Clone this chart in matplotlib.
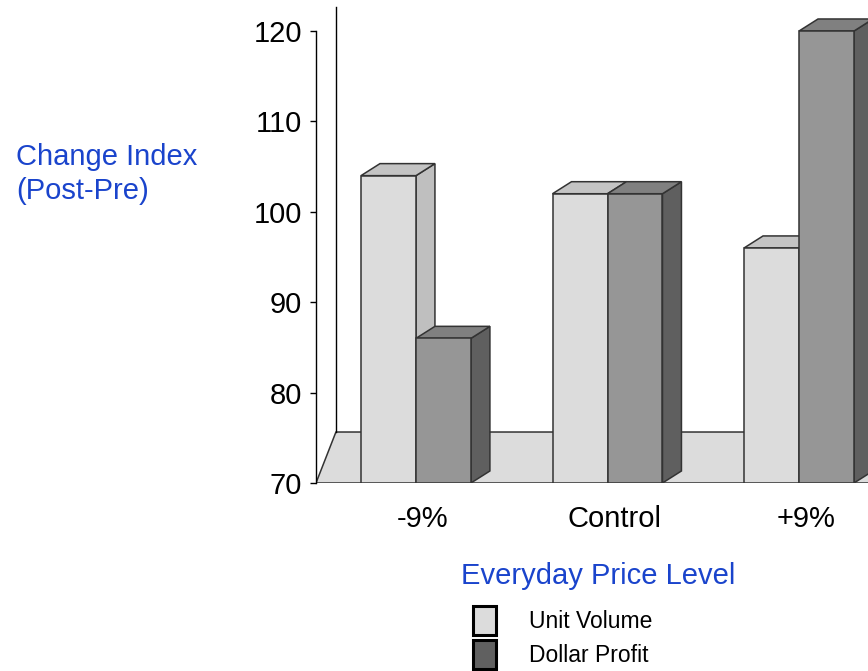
import matplotlib.pyplot as plt
from matplotlib.patches import Polygon, Patch

# category labels and series values
categories = ['-9%', 'Control', '+9%']
unit_volume = [104, 102, 96]
dollar_profit = [86, 102, 120]
y_ticks = [70, 80, 90, 100, 110, 120]

plt.rcParams['font.family'] = ['Liberation Sans', 'DejaVu Sans']

BLUE = '#1a44cc'
EDGE = '#333333'
# (front, top, side) shades for each series
UV_COLORS = ('#dcdcdc', '#c4c4c4', '#bfbfbf')
DP_COLORS = ('#969696', '#808080', '#5f5f5f')

BASE = 70
bar_w = 0.287
dx, dy = 0.099, 1.33          # bar depth offset
fdx, fdy = 0.104, 5.64        # floor depth offset
x_lo, x_hi = -0.522, 2.36
y_top = 123.43


def draw_bar(ax, x0, value, colors):
    front, top, side = colors
    kw = dict(edgecolor=EDGE, linewidth=1.1, joinstyle='miter')
    ax.add_patch(Polygon([(x0 + bar_w, BASE), (x0 + bar_w + dx, BASE + dy),
                          (x0 + bar_w + dx, value + dy), (x0 + bar_w, value)],
                         facecolor=side, **kw))
    ax.add_patch(Polygon([(x0, value), (x0 + dx, value + dy),
                          (x0 + bar_w + dx, value + dy), (x0 + bar_w, value)],
                         facecolor=top, **kw))
    ax.add_patch(Polygon([(x0, BASE), (x0, value), (x0 + bar_w, value),
                          (x0 + bar_w, BASE)], facecolor=front, **kw))


fig = plt.figure(figsize=(8.68, 6.71), dpi=100)
ax = fig.add_axes([316 / 868, 188 / 671, 552 / 868, 483 / 671])
ax.set_xlim(x_lo, x_hi)
ax.set_ylim(BASE, y_top)

# floor and back wall
ax.add_patch(Polygon([(x_lo, BASE), (x_lo + fdx, BASE + fdy),
                      (x_hi + 0.5, BASE + fdy), (x_hi + 0.5, BASE)],
                     facecolor='#dcdcdc', edgecolor=EDGE, linewidth=1.1))
ax.plot([x_lo + fdx, x_lo + fdx], [BASE + fdy, 122.65], color='black', lw=1.0)

for i in range(len(categories)):
    draw_bar(ax, i - bar_w, unit_volume[i], UV_COLORS)
    draw_bar(ax, i, dollar_profit[i], DP_COLORS)

for side in ['top', 'right', 'bottom']:
    ax.spines[side].set_visible(False)
ax.spines['left'].set_bounds(70, 120)
ax.spines['left'].set_linewidth(1.0)
ax.set_yticks(y_ticks)
ax.tick_params(axis='y', length=4, width=1.0, pad=6, labelsize=21)
ax.set_xticks([i + 0.035 for i in range(len(categories))])
ax.set_xticklabels(categories)
ax.tick_params(axis='x', length=0, pad=16, labelsize=21)

ax.set_xlabel('Everyday Price Level', color=BLUE, fontsize=21, va='center')
ax.xaxis.set_label_coords((598 - 316) / 552, -(576 - 483) / 483)

fig.text(16 / 868, 1 - 174 / 671, 'Change Index\n(Post-Pre)', color=BLUE,
         fontsize=21, ha='left', va='center', linespacing=1.25)

handles = [Patch(facecolor=UV_COLORS[0], edgecolor='black', linewidth=2.2),
           Patch(facecolor='#606060', edgecolor='black', linewidth=2.2)]
fig.legend(handles, ['Unit Volume', 'Dollar Profit'], loc='upper left',
           bbox_to_anchor=(473 / 868, 1 - 606 / 671), frameon=False,
           fontsize=16.5, handlelength=1.0, handleheight=1.6,
           labelspacing=0.2, handletextpad=1.45, borderpad=0,
           borderaxespad=0)

fig.savefig('out.png', dpi=100)
